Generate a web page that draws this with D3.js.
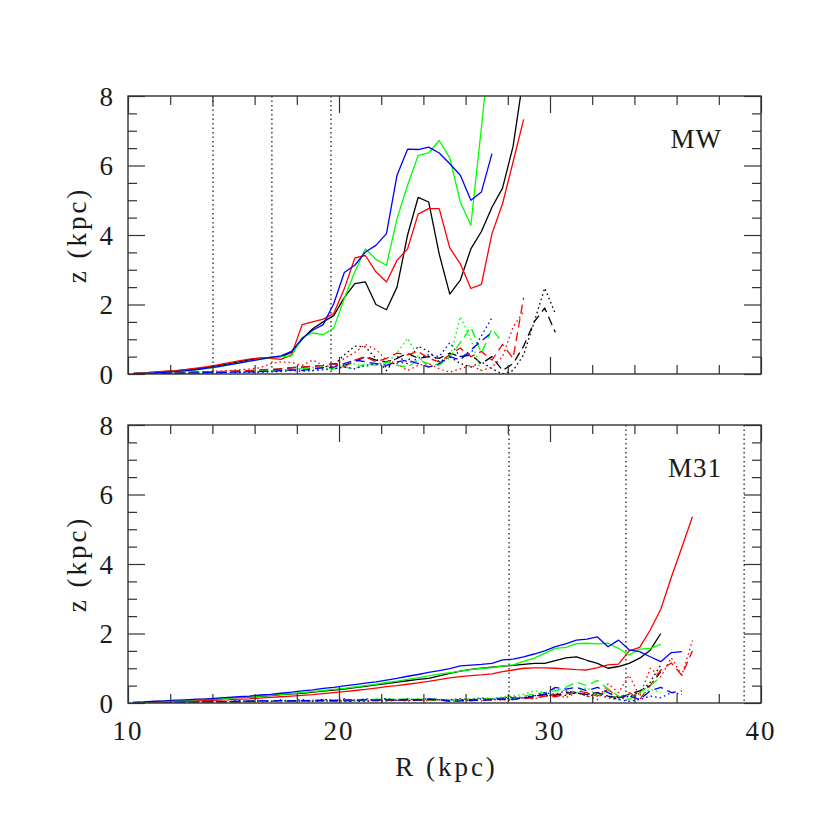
<!DOCTYPE html>
<html>
<head>
<meta charset="utf-8">
<script src="https://cdn.jsdelivr.net/npm/d3@7/dist/d3.min.js"></script>
<style>
  html, body { margin: 0; padding: 0; background: #fff; }
  svg { display: block; }
  text { font-family: "Liberation Serif", "DejaVu Serif", serif; fill: #1a1a1a; }
</style>
</head>
<body>
<svg id="chart" width="830" height="830"></svg>
<script>
// ---------- data ----------
const radiusGrid = [10.25,10.75,11.25,11.75,12.25,12.75,13.25,13.75,14.25,14.75,
  15.25,15.75,16.25,16.75,17.25,17.75,18.25,18.75,19.25,19.75,
  20.25,20.75,21.25,21.75,22.25,22.75,23.25,23.75,24.25,24.75,
  25.25,25.75,26.25,26.75,27.25,27.75,28.25,28.75,29.25,29.75,
  30.25,30.75,31.25,31.75,32.25,32.75,33.25,33.75,34.25,34.75,
  35.25,35.75,36.25,36.75];

const xTickLabels = [10, 20, 30, 40];
const yTickLabels = [0, 2, 4, 6, 8];
const panelNames = ["MW", "M31"];
const mwMarkers = [14.03, 16.82, 19.62];
const m31Markers = [28.06, 33.6, 39.2];

// MW panel, solid
const mwSolidBlack = [0.02,0.03,0.05,0.07,0.09,0.12,0.15,0.19,0.24,0.29,0.35,0.41,0.45,0.48,0.5,0.62,1.0,1.3,1.5,1.68,
  2.2,2.6,2.65,2.0,1.85,2.5,4.0,5.08,4.95,3.45,2.3,2.7,3.6,4.1,4.8,5.35,6.55,8.6];
const mwSolidRed = [0.02,0.03,0.05,0.08,0.1,0.13,0.17,0.21,0.26,0.32,0.38,0.43,0.46,0.45,0.42,0.55,1.42,1.5,1.58,1.74,
  2.45,3.34,3.41,2.94,2.65,3.27,3.6,4.6,4.76,4.76,3.63,3.17,2.46,2.58,4.04,4.9,6.1,7.33];
const mwSolidGreen = [0.01,0.02,0.03,0.05,0.07,0.09,0.12,0.16,0.2,0.26,0.31,0.37,0.42,0.47,0.5,0.52,1.05,1.18,1.13,1.32,
  2.17,2.94,3.6,3.3,3.13,4.47,5.43,6.29,6.36,6.72,6.22,4.95,4.28,7.1,10.0];
const mwSolidBlue = [0.01,0.02,0.03,0.05,0.07,0.1,0.13,0.17,0.21,0.26,0.31,0.37,0.42,0.48,0.52,0.65,1.02,1.26,1.42,2.02,
  2.92,3.13,3.51,3.7,4.04,5.72,6.47,6.46,6.53,6.36,6.05,5.72,5.0,5.24,6.34];

// MW panel, dashed / dotted
const mwDotBlack = [0.01,0.01,0.02,0.02,0.03,0.03,0.03,0.04,0.04,0.05,0.05,0.06,0.06,0.08,0.1,0.12,0.15,0.1,0.2,0.25,
  0.55,0.8,0.78,0.45,0.1,0.5,0.35,0.8,0.65,0.35,0.5,0.3,0.2,0.35,0.15,0.0,0.1,0.55,1.5,2.47,1.74];
const mwDashBlack = [0.01,0.01,0.02,0.03,0.03,0.04,0.05,0.05,0.06,0.07,0.08,0.09,0.1,0.12,0.15,0.18,0.2,0.22,0.25,0.3,
  0.25,0.35,0.5,0.4,0.35,0.45,0.6,0.45,0.5,0.45,0.6,0.5,0.55,0.3,0.5,0.1,0.3,0.8,1.5,1.9,1.2];
const mwDotRed = [0.01,0.02,0.03,0.03,0.04,0.05,0.06,0.07,0.08,0.1,0.12,0.14,0.18,0.3,0.35,0.33,0.25,0.4,0.25,0.2,
  0.45,0.62,0.85,0.7,0.4,0.3,0.1,0.25,0.3,0.15,0.05,0.15,0.25,0.1,0.2,0.5,1.35,1.8];
const mwDashRed = [0.01,0.01,0.02,0.03,0.04,0.05,0.05,0.06,0.07,0.08,0.09,0.1,0.12,0.14,0.15,0.18,0.2,0.22,0.25,0.3,
  0.2,0.4,0.5,0.35,0.45,0.6,0.55,0.65,0.45,0.35,0.55,0.75,0.5,0.65,0.4,0.85,0.45,2.2];
const mwDotGreen = [0.0,0.01,0.01,0.02,0.02,0.03,0.03,0.04,0.04,0.05,0.05,0.06,0.07,0.08,0.1,0.12,0.15,0.18,0.15,0.2,
  0.25,0.3,0.2,0.3,0.3,0.6,1.03,0.5,0.2,0.3,0.45,1.65,1.0,0.05];
const mwDashGreen = [0.01,0.01,0.01,0.02,0.02,0.03,0.03,0.04,0.05,0.05,0.06,0.07,0.08,0.09,0.1,0.12,0.15,0.17,0.2,0.15,
  0.2,0.15,0.3,0.25,0.35,0.25,0.2,0.4,0.3,0.25,0.5,0.9,1.35,0.6,1.3,0.9];
const mwDotBlue = [0.0,0.0,0.01,0.01,0.01,0.02,0.02,0.03,0.03,0.04,0.04,0.05,0.05,0.06,0.07,0.1,0.08,0.1,0.12,0.15,
  0.2,0.15,0.25,0.3,0.2,0.35,0.3,0.45,0.55,0.5,0.9,0.5,0.6,1.1,1.62];
const mwDashBlue = [0.01,0.01,0.01,0.02,0.02,0.03,0.03,0.04,0.04,0.05,0.06,0.06,0.07,0.08,0.1,0.12,0.1,0.15,0.18,0.2,
  0.3,0.4,0.35,0.3,0.25,0.35,0.4,0.3,0.2,0.3,0.5,0.4,0.7,0.95,1.2];

// M31 panel, solid
const m31SolidBlack = [0.01,0.02,0.04,0.05,0.06,0.08,0.09,0.11,0.12,0.14,0.16,0.17,0.19,0.21,0.24,0.26,0.28,0.31,0.34,0.37,
  0.4,0.44,0.48,0.52,0.56,0.6,0.64,0.68,0.71,0.78,0.85,0.92,0.97,1.0,1.03,1.06,1.08,1.11,1.14,1.14,
  1.22,1.3,1.33,1.23,1.14,1.0,1.05,1.14,1.29,1.52,2.0];
const m31SolidRed = [0.01,0.01,0.02,0.03,0.04,0.05,0.06,0.07,0.08,0.09,0.11,0.12,0.14,0.16,0.18,0.2,0.22,0.24,0.27,0.3,
  0.33,0.36,0.39,0.43,0.47,0.5,0.54,0.58,0.62,0.67,0.72,0.76,0.79,0.81,0.84,0.9,0.95,1.0,1.01,1.01,
  1.0,0.98,0.96,0.95,1.02,1.1,1.12,1.5,1.6,2.1,2.7,3.62,4.48,5.36];
const m31SolidGreen = [0.02,0.02,0.04,0.05,0.07,0.08,0.1,0.11,0.13,0.14,0.16,0.18,0.2,0.22,0.25,0.27,0.3,0.33,0.36,0.39,
  0.42,0.46,0.5,0.54,0.59,0.63,0.68,0.73,0.78,0.83,0.87,0.92,0.96,1.0,1.02,1.06,1.1,1.2,1.29,1.43,
  1.57,1.6,1.71,1.72,1.7,1.72,1.57,1.38,1.55,1.57,1.69];
const m31SolidBlue = [0.02,0.03,0.05,0.06,0.08,0.09,0.11,0.12,0.14,0.16,0.18,0.2,0.23,0.25,0.28,0.31,0.35,0.38,0.42,0.45,
  0.49,0.53,0.57,0.61,0.66,0.71,0.77,0.82,0.88,0.93,0.99,1.07,1.09,1.11,1.14,1.24,1.26,1.33,1.41,1.5,
  1.62,1.7,1.81,1.84,1.9,1.62,1.81,1.53,1.48,1.33,1.19,1.45,1.48];

// M31 panel, dashed / dotted
const m31DotBlack = [0.01,0.02,0.01,0.03,0.02,0.03,0.02,0.04,0.03,0.04,0.03,0.05,0.04,0.05,0.04,0.06,0.05,0.06,0.05,0.07,
  0.05,0.06,0.05,0.07,0.06,0.08,0.07,0.09,0.08,0.1,0.09,0.12,0.1,0.14,0.12,0.15,0.18,0.15,0.22,0.2,
  0.25,0.22,0.3,0.2,0.25,0.15,0.1,0.2,0.3,0.6,1.1];
const m31DashBlack = [0.01,0.01,0.02,0.02,0.02,0.03,0.03,0.03,0.04,0.04,0.04,0.05,0.05,0.05,0.06,0.05,0.06,0.06,0.07,0.06,
  0.07,0.06,0.08,0.07,0.08,0.07,0.09,0.08,0.09,0.08,0.07,0.08,0.1,0.09,0.12,0.1,0.15,0.12,0.2,0.25,
  0.22,0.3,0.28,0.25,0.3,0.2,0.15,0.25,0.35,0.5,0.9];
const m31DotRed = [0.01,0.01,0.02,0.01,0.02,0.03,0.02,0.03,0.02,0.04,0.03,0.05,0.03,0.06,0.04,0.07,0.05,0.08,0.05,0.09,
  0.06,0.1,0.05,0.11,0.06,0.1,0.05,0.12,0.06,0.1,0.06,0.05,0.08,0.06,0.1,0.08,0.12,0.15,0.12,0.2,
  0.25,0.15,0.3,0.2,0.1,0.55,0.3,0.8,0.2,1.0,0.75,1.3,0.8,1.8];
const m31DashRed = [0.01,0.01,0.01,0.02,0.02,0.02,0.03,0.03,0.03,0.04,0.04,0.04,0.05,0.05,0.06,0.05,0.06,0.07,0.06,0.07,
  0.08,0.07,0.09,0.08,0.1,0.08,0.1,0.09,0.11,0.09,0.05,0.07,0.06,0.09,0.08,0.12,0.1,0.15,0.13,0.2,
  0.18,0.25,0.35,0.3,0.2,0.4,0.15,0.3,0.1,0.5,0.95,1.15,0.8,1.5];
const m31DotGreen = [0.01,0.01,0.02,0.02,0.03,0.02,0.04,0.03,0.05,0.03,0.06,0.04,0.07,0.05,0.08,0.05,0.09,0.06,0.1,0.07,
  0.11,0.08,0.12,0.09,0.13,0.1,0.12,0.1,0.13,0.11,0.08,0.1,0.12,0.15,0.12,0.18,0.2,0.25,0.35,0.3,
  0.4,0.35,0.3,0.45,0.2,0.35,0.1,0.25,0.2,0.4,0.3];
const m31DashGreen = [0.01,0.01,0.01,0.02,0.02,0.02,0.03,0.03,0.03,0.04,0.04,0.05,0.05,0.06,0.05,0.07,0.06,0.08,0.07,0.09,
  0.08,0.1,0.08,0.11,0.09,0.12,0.1,0.11,0.09,0.1,0.06,0.08,0.07,0.1,0.12,0.15,0.12,0.2,0.25,0.3,
  0.35,0.45,0.6,0.5,0.65,0.4,0.2,0.1,0.3,0.5,0.75];
const m31DotBlue = [0.02,0.01,0.03,0.02,0.04,0.02,0.05,0.03,0.06,0.03,0.07,0.04,0.08,0.04,0.09,0.05,0.1,0.05,0.11,0.06,
  0.12,0.06,0.12,0.07,0.13,0.07,0.12,0.08,0.13,0.09,0.08,0.1,0.09,0.12,0.1,0.14,0.12,0.15,0.2,0.3,
  0.25,0.35,0.3,0.25,0.3,0.2,0.1,0.05,0.1,0.2,0.15,0.3,0.25];
const m31DashBlue = [0.01,0.01,0.02,0.02,0.02,0.03,0.03,0.04,0.04,0.04,0.05,0.05,0.06,0.06,0.07,0.06,0.07,0.07,0.08,0.07,
  0.08,0.08,0.09,0.08,0.1,0.09,0.1,0.09,0.11,0.1,0.05,0.06,0.08,0.07,0.1,0.12,0.1,0.15,0.18,0.25,
  0.45,0.4,0.45,0.35,0.45,0.3,0.15,0.2,0.1,0.35,0.45,0.3,0.35];

const panels = [
  { name: panelNames[0], markers: mwMarkers, showX: false, series: [
    { v: mwDotBlack, c: "#000", s: "dot" }, { v: mwDashBlack, c: "#000", s: "dash" },
    { v: mwDotRed, c: "#f00", s: "dot" }, { v: mwDashRed, c: "#f00", s: "dash" },
    { v: mwDotGreen, c: "#0f0", s: "dot" }, { v: mwDashGreen, c: "#0f0", s: "dash" },
    { v: mwDotBlue, c: "#00f", s: "dot" }, { v: mwDashBlue, c: "#00f", s: "dash" },
    { v: mwSolidBlack, c: "#000", s: "solid" }, { v: mwSolidRed, c: "#f00", s: "solid" },
    { v: mwSolidGreen, c: "#0f0", s: "solid" }, { v: mwSolidBlue, c: "#00f", s: "solid" } ] },
  { name: panelNames[1], markers: m31Markers, showX: true, series: [
    { v: m31DotBlack, c: "#000", s: "dot" }, { v: m31DashBlack, c: "#000", s: "dash" },
    { v: m31DotRed, c: "#f00", s: "dot" }, { v: m31DashRed, c: "#f00", s: "dash" },
    { v: m31DotGreen, c: "#0f0", s: "dot" }, { v: m31DashGreen, c: "#0f0", s: "dash" },
    { v: m31DotBlue, c: "#00f", s: "dot" }, { v: m31DashBlue, c: "#00f", s: "dash" },
    { v: m31SolidBlack, c: "#000", s: "solid" }, { v: m31SolidRed, c: "#f00", s: "solid" },
    { v: m31SolidGreen, c: "#0f0", s: "solid" }, { v: m31SolidBlue, c: "#00f", s: "solid" } ] }
];

// ---------- layout ----------
const svg = d3.select("#chart");
const left = 128, right = 761;
const panelBox = [ { top: 96, bottom: 374 }, { top: 425, bottom: 703 } ];
const x = d3.scaleLinear().domain([10, 40]).range([left, right]);
const dashes = { solid: null, dash: "9,5", dot: "1.6,3" };
const axisColor = "#333";
const labelSize = 27;

panels.forEach((p, pi) => {
  const box = panelBox[pi];
  const y = d3.scaleLinear().domain([0, 8]).range([box.bottom, box.top]);
  const g = svg.append("g");
  const clipId = "clip" + pi;
  svg.append("clipPath").attr("id", clipId).append("rect")
    .attr("x", left).attr("y", box.top).attr("width", right - left).attr("height", box.bottom - box.top);

  // vertical dotted markers
  g.selectAll("line.mk").data(p.markers).enter().append("line")
    .attr("x1", d => x(d)).attr("x2", d => x(d))
    .attr("y1", box.top).attr("y2", box.bottom)
    .attr("stroke", "#222").attr("stroke-width", 1.3).attr("stroke-dasharray", "1.5,3");

  // data
  const line = d3.line().x((d, i) => x(radiusGrid[i])).y(d => y(d));
  const dg = g.append("g").attr("clip-path", `url(#${clipId})`);
  p.series.forEach(s => {
    dg.append("path").datum(s.v).attr("d", line)
      .attr("fill", "none").attr("stroke", s.c).attr("stroke-width", 1.3)
      .attr("stroke-linejoin", "round")
      .attr("stroke-dasharray", dashes[s.s]);
  });

  // axes (ticks inward, mirrored)
  const xMinor = d3.range(10, 40.01, 2).filter(v => v % 10 !== 0);
  const yMinor = d3.range(0, 8.01, 0.5).filter(v => v % 2 !== 0);
  const axStyle = sel => { sel.selectAll("path").remove(); sel.selectAll("line").attr("stroke", axisColor).attr("stroke-width", 1.2); sel.selectAll("text").remove(); };
  g.append("g").attr("transform", `translate(0,${box.bottom})`).call(d3.axisBottom(x).tickValues(xMinor).tickSize(-9)).call(axStyle);
  g.append("g").attr("transform", `translate(0,${box.bottom})`).call(d3.axisBottom(x).tickValues(xTickLabels).tickSize(-17)).call(axStyle);
  g.append("g").attr("transform", `translate(0,${box.top})`).call(d3.axisTop(x).tickValues(xMinor).tickSize(-9)).call(axStyle);
  g.append("g").attr("transform", `translate(0,${box.top})`).call(d3.axisTop(x).tickValues(xTickLabels).tickSize(-17)).call(axStyle);
  g.append("g").attr("transform", `translate(${left},0)`).call(d3.axisLeft(y).tickValues(yMinor).tickSize(-9)).call(axStyle);
  g.append("g").attr("transform", `translate(${left},0)`).call(d3.axisLeft(y).tickValues(yTickLabels).tickSize(-17)).call(axStyle);
  g.append("g").attr("transform", `translate(${right},0)`).call(d3.axisRight(y).tickValues(yMinor).tickSize(-9)).call(axStyle);
  g.append("g").attr("transform", `translate(${right},0)`).call(d3.axisRight(y).tickValues(yTickLabels).tickSize(-17)).call(axStyle);

  // frame
  g.append("rect").attr("x", left).attr("y", box.top).attr("width", right - left).attr("height", box.bottom - box.top)
    .attr("fill", "none").attr("stroke", axisColor).attr("stroke-width", 1.4);

  // y tick labels
  g.selectAll("text.yl").data(yTickLabels).enter().append("text")
    .attr("x", left - 15).attr("y", d => y(d)).attr("dy", "0.36em")
    .attr("text-anchor", "end").attr("font-size", labelSize).text(d => d);

  // x tick labels
  if (p.showX) {
    g.selectAll("text.xl").data(xTickLabels).enter().append("text")
      .attr("x", d => x(d)).attr("y", box.bottom + 37)
      .attr("text-anchor", "middle").attr("font-size", labelSize)
      .attr("letter-spacing", 2).text(d => d);
    g.append("text").attr("x", (left + right) / 2 + 2).attr("y", 776)
      .attr("text-anchor", "middle").attr("font-size", labelSize)
      .attr("letter-spacing", 3).text("R (kpc)");
  }

  // y axis title
  g.append("text").attr("transform", `translate(86,${(box.top + box.bottom) / 2}) rotate(-90)`)
    .attr("text-anchor", "middle").attr("font-size", labelSize)
    .attr("letter-spacing", 3).text("z (kpc)");

  // panel name
  g.append("text").attr("x", 722).attr("y", pi === 0 ? 148 : 477)
    .attr("text-anchor", "end").attr("font-size", labelSize)
    .attr("letter-spacing", 1).text(p.name);
});
</script>
</body>
</html>
